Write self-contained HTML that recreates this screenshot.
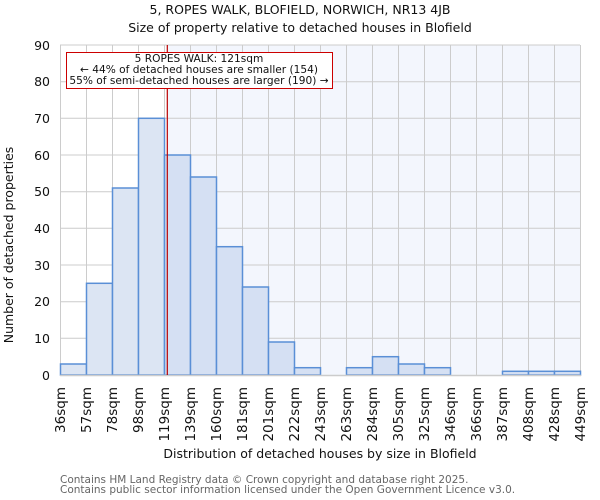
<!DOCTYPE html>
<html><head><meta charset="utf-8"><style>body{margin:0;background:#fff}svg{display:block}text{font-family:"DejaVu Sans","Liberation Sans",sans-serif}</style></head><body>
<svg width="600" height="500" xmlns="http://www.w3.org/2000/svg">
<rect x="167" y="45" width="413" height="330" fill="#f3f6fd"/>
<g stroke="#cccccc" stroke-width="1">
<line x1="60" y1="45" x2="580" y2="45"/><line x1="60" y1="81.7" x2="580" y2="81.7"/><line x1="60" y1="118.3" x2="580" y2="118.3"/><line x1="60" y1="155" x2="580" y2="155"/><line x1="60" y1="191.7" x2="580" y2="191.7"/><line x1="60" y1="228.3" x2="580" y2="228.3"/><line x1="60" y1="265" x2="580" y2="265"/><line x1="60" y1="301.7" x2="580" y2="301.7"/><line x1="60" y1="338.3" x2="580" y2="338.3"/>
<line x1="60.5" y1="45" x2="60.5" y2="375"/><line x1="86.5" y1="45" x2="86.5" y2="375"/><line x1="112.5" y1="45" x2="112.5" y2="375"/><line x1="138.5" y1="45" x2="138.5" y2="375"/><line x1="164.5" y1="45" x2="164.5" y2="375"/><line x1="190.5" y1="45" x2="190.5" y2="375"/><line x1="216.5" y1="45" x2="216.5" y2="375"/><line x1="242.5" y1="45" x2="242.5" y2="375"/><line x1="268.5" y1="45" x2="268.5" y2="375"/><line x1="294.5" y1="45" x2="294.5" y2="375"/><line x1="320.5" y1="45" x2="320.5" y2="375"/><line x1="346.5" y1="45" x2="346.5" y2="375"/><line x1="372.5" y1="45" x2="372.5" y2="375"/><line x1="398.5" y1="45" x2="398.5" y2="375"/><line x1="424.5" y1="45" x2="424.5" y2="375"/><line x1="450.5" y1="45" x2="450.5" y2="375"/><line x1="476.5" y1="45" x2="476.5" y2="375"/><line x1="502.5" y1="45" x2="502.5" y2="375"/><line x1="528.5" y1="45" x2="528.5" y2="375"/><line x1="554.5" y1="45" x2="554.5" y2="375"/><line x1="580.5" y1="45" x2="580.5" y2="375"/>
</g>
<g stroke="#5a8fd6" stroke-width="1.5">
<rect x="60.5" y="364" width="26" height="11" fill="#dce5f3"/>
<rect x="86.5" y="283.3" width="26" height="91.7" fill="#dce5f3"/>
<rect x="112.5" y="188" width="26" height="187" fill="#dce5f3"/>
<rect x="138.5" y="118.3" width="26" height="256.7" fill="#dce5f3"/>
<rect x="164.5" y="155" width="26" height="220" fill="#d5e0f3"/>
<rect x="190.5" y="177" width="26" height="198" fill="#d5e0f3"/>
<rect x="216.5" y="246.7" width="26" height="128.3" fill="#d5e0f3"/>
<rect x="242.5" y="287" width="26" height="88" fill="#d5e0f3"/>
<rect x="268.5" y="342" width="26" height="33" fill="#d5e0f3"/>
<rect x="294.5" y="367.7" width="26" height="7.3" fill="#d5e0f3"/>
<rect x="346.5" y="367.7" width="26" height="7.3" fill="#d5e0f3"/>
<rect x="372.5" y="356.7" width="26" height="18.3" fill="#d5e0f3"/>
<rect x="398.5" y="364" width="26" height="11" fill="#d5e0f3"/>
<rect x="424.5" y="367.7" width="26" height="7.3" fill="#d5e0f3"/>
<rect x="502.5" y="371.3" width="26" height="3.7" fill="#d5e0f3"/>
<rect x="528.5" y="371.3" width="26" height="3.7" fill="#d5e0f3"/>
<rect x="554.5" y="371.3" width="26" height="3.7" fill="#d5e0f3"/>
</g>
<line x1="60" y1="375.5" x2="581" y2="375.5" stroke="#cccccc" stroke-width="1.5"/>
<line x1="167.3" y1="45" x2="167.3" y2="375" stroke="#bb0000" stroke-width="1.2"/>
<rect x="66.5" y="52.5" width="266" height="36" fill="#fff" stroke="#cc0000" stroke-width="1"/>
<g font-size="10.6" text-anchor="middle" fill="#111"><text x="199" y="62">5 ROPES WALK: 121sqm</text><text x="199" y="73">← 44% of detached houses are smaller (154)</text><text x="199" y="84">55% of semi-detached houses are larger (190) →</text></g>
<g font-size="12.5" text-anchor="end" fill="#111"><text x="50" y="50">90</text><text x="50" y="86">80</text><text x="50" y="123">70</text><text x="50" y="160">60</text><text x="50" y="196">50</text><text x="50" y="233">40</text><text x="50" y="270">30</text><text x="50" y="306">20</text><text x="50" y="343">10</text><text x="50" y="380">0</text></g>
<g font-size="13.5" text-anchor="end" fill="#111">
<text transform="translate(65,387) rotate(-90)">36sqm</text><text transform="translate(91,387) rotate(-90)">57sqm</text><text transform="translate(117,387) rotate(-90)">78sqm</text><text transform="translate(143,387) rotate(-90)">98sqm</text><text transform="translate(169,387) rotate(-90)">119sqm</text><text transform="translate(195,387) rotate(-90)">139sqm</text><text transform="translate(221,387) rotate(-90)">160sqm</text><text transform="translate(247,387) rotate(-90)">181sqm</text><text transform="translate(273,387) rotate(-90)">201sqm</text><text transform="translate(299,387) rotate(-90)">222sqm</text><text transform="translate(325,387) rotate(-90)">243sqm</text><text transform="translate(351,387) rotate(-90)">263sqm</text><text transform="translate(377,387) rotate(-90)">284sqm</text><text transform="translate(403,387) rotate(-90)">305sqm</text><text transform="translate(429,387) rotate(-90)">325sqm</text><text transform="translate(455,387) rotate(-90)">346sqm</text><text transform="translate(481,387) rotate(-90)">366sqm</text><text transform="translate(507,387) rotate(-90)">387sqm</text><text transform="translate(533,387) rotate(-90)">408sqm</text><text transform="translate(559,387) rotate(-90)">428sqm</text><text transform="translate(585,387) rotate(-90)">449sqm</text>
</g>
<g text-anchor="middle" fill="#111"><text x="300" y="14" font-size="12.5">5, ROPES WALK, BLOFIELD, NORWICH, NR13 4JB</text><text x="300" y="32" font-size="12.5">Size of property relative to detached houses in Blofield</text><text x="320" y="458" font-size="12.5">Distribution of detached houses by size in Blofield</text><text transform="translate(13,245) rotate(-90)" font-size="12.5">Number of detached properties</text></g>
<g font-size="10.5" fill="#666"><text x="60" y="483">Contains HM Land Registry data © Crown copyright and database right 2025.</text><text x="60" y="493">Contains public sector information licensed under the Open Government Licence v3.0.</text></g>
</svg></body></html>
